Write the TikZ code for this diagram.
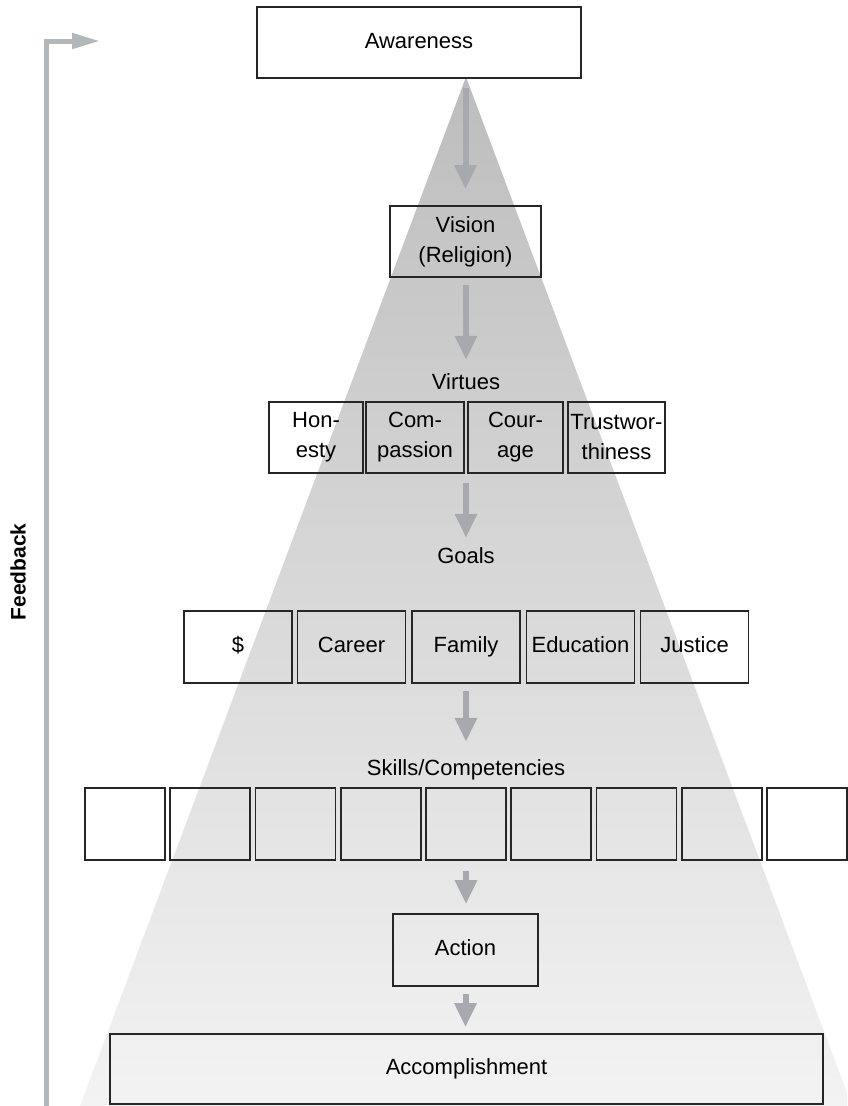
\documentclass[tikz,border=0pt]{standalone}
\usepackage{fontspec}
\setmainfont{Liberation Sans}
\usetikzlibrary{arrows.meta}
\definecolor{tritop}{HTML}{BDBDBD}
\definecolor{tribot}{HTML}{F3F3F3}
\definecolor{boxline}{HTML}{262626}
\definecolor{arrowgray}{HTML}{A7A9AC}
\definecolor{fbgray}{HTML}{B4B7BA}
\begin{document}
\begin{tikzpicture}[x=1pt,y=-1pt,
  box/.style={draw=boxline, line width=1.6pt, inner sep=0pt, align=center,
    font=\fontsize{22}{30}\selectfont, minimum height=71pt},
  oneline/.style={text height=16pt, text depth=5pt},
  lbl/.style={inner sep=0pt, text height=16pt, text depth=0pt,
    font=\fontsize{22}{30}\selectfont},
  flow/.style={draw=arrowgray, line width=6pt, -{Triangle[width=21pt,length=24pt]}}]
\useasboundingbox (0,0) rectangle (847,1106);
% shaded cone
\begin{scope}
\clip (0,0) rectangle (847,1106);
\shade[top color=tritop, bottom color=tribot] (466,77) -- (80,1106) -- (852,1106) -- cycle;
\end{scope}
% feedback arrow
\coordinate (fbstart) at (46.5,1106);
\coordinate (fbcorner) at (46.5,41);
\coordinate (fbend) at (100,41);
\draw[draw=fbgray, line width=5pt, -{Triangle[width=15pt,length=28pt]}] (fbstart) -- (fbcorner) -- (fbend);
\node[rotate=90, inner sep=0pt, font=\bfseries\fontsize{21}{21}\selectfont] (fb) at (18,572) {Feedback};
% boxes
\node[box, oneline, fill=white, minimum width=324pt] (aw) at (419,42.5) {Awareness};
\node[box, minimum width=151pt] (vis) at (465.5,241.5) {Vision\\(Religion)};
\node[lbl] (virt) at (466,381) {Virtues};
\node[box, minimum width=94pt, minimum height=71pt] (v1) at (316,437.5) {Hon-\\esty};
\node[box, minimum width=98pt, minimum height=71pt] (v2) at (415,437.5) {Com-\\passion};
\node[box, minimum width=95pt, minimum height=71pt] (v3) at (515.5,437.5) {Cour-\\age};
\node[box, minimum width=97pt, minimum height=71pt] (v4) at (616.5,437.5) {Trustwor-\\thiness};
\node[lbl] (goals) at (466,555) {Goals};
\node[box, oneline, minimum width=108pt, minimum height=72pt] (g1) at (238,647) {\$};
\node[box, oneline, minimum width=108pt, minimum height=72pt] (g2) at (351.5,647) {Career};
\node[box, oneline, minimum width=108pt, minimum height=72pt] (g3) at (466,647) {Family};
\node[box, oneline, minimum width=108pt, minimum height=72pt] (g4) at (580.5,647) {Education};
\node[box, oneline, minimum width=108pt, minimum height=72pt] (g5) at (694.5,647) {Justice};
\node[lbl] (skills) at (466,767) {Skills/Competencies};
\foreach \i in {0,...,8} {
  \node[box, minimum width=80pt, minimum height=72pt] (s\i) at ({125+85.25*\i},824) {};
}
\node[box, oneline, minimum width=145pt, minimum height=72pt] (act) at (465.5,950) {Action};
\node[box, oneline, minimum width=713pt, minimum height=70pt] (acc) at (466.5,1069) {Accomplishment};
% flow arrows
\draw[flow, shorten <=9pt, shorten >=16pt] (aw.south -| vis.north) -- (vis.north);
\draw[flow, shorten <=7pt, shorten >=13pt] (vis.south -| virt.north) -- (virt.north);
\draw[flow, shorten <=9pt, shorten >=9pt] (v2.south -| goals.north) -- (goals.north);
\draw[flow, shorten <=7pt, shorten >=17pt] (g3.south) -- (skills.north);
\draw[flow, shorten <=10pt, shorten >=9pt] (s4.south) -- (act.north -| s4.south);
\draw[flow, shorten <=7pt, shorten >=6pt] (act.south) -- (acc.north -| act.south);
\end{tikzpicture}
\end{document}
